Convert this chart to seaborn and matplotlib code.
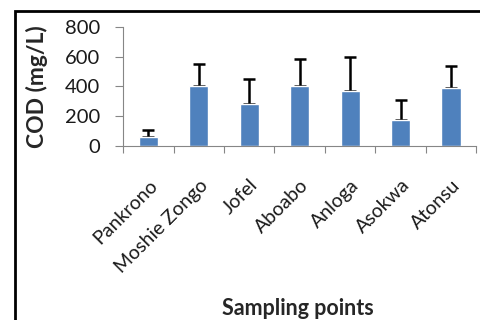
# COD by sampling point, bar chart with upward error bars

import pandas as pd
import numpy as np
import matplotlib
matplotlib.use('Agg')
import matplotlib.pyplot as plt
from matplotlib.patches import Rectangle
import seaborn as sns

# Data
sites = ['Pankrono', 'Moshie Zongo', 'Jofel', 'Aboabo', 'Anloga', 'Asokwa', 'Atonsu']
cod_mean = [62, 400, 280, 400, 372, 175, 392]
cod_sd = [46, 149, 168, 183, 228, 134, 146]

df = pd.DataFrame({'site': sites, 'cod': cod_mean})

sns.set_style('white')
plt.rcParams['font.family'] = ['Lato', 'DejaVu Sans']

fig = plt.figure(figsize=(4.81, 3.20), dpi=100)
ax = fig.add_axes([0.256, 0.544, 0.734, 0.372])

sns.barplot(data=df, x='site', y='cod', color='#4F81BD', width=0.38,
            saturation=1, errorbar=None, ax=ax, zorder=2)
ax.errorbar(np.arange(len(sites)), cod_mean,
            yerr=[np.zeros(len(sites)), cod_sd],
            fmt='none', ecolor='black', elinewidth=1.8, capsize=4,
            capthick=1.8, zorder=1)

ax.set_ylim(0, 800)
ax.set_xlim(-0.5, len(sites) - 0.5)
ax.set_yticks([0, 200, 400, 600, 800])
ax.tick_params(axis='y', labelsize=14.5, length=5.5, width=0.8, color='#868686',
               left=True, pad=11, labelcolor='#1a1a1a')
ax.set_xticks(np.arange(-0.5, len(sites)), minor=True)
ax.tick_params(axis='x', which='major', length=0, labelsize=14, pad=22,
               labelcolor='#1a1a1a')
ax.tick_params(axis='x', which='minor', length=5, width=0.8, color='#868686',
               bottom=True)
ax.set_xticks(np.arange(len(sites)))
ax.set_xticklabels(sites, rotation=45, ha='right', rotation_mode='anchor')

sns.despine(ax=ax)
for s in ['left', 'bottom']:
    ax.spines[s].set_color('#868686')
    ax.spines[s].set_linewidth(0.8)

ax.set_xlabel('')
ax.set_ylabel('COD (mg/L)', fontsize=16.5, fontweight='bold', labelpad=12)
fig.text(0.62, 0.035, 'Sampling points', fontsize=15.5, fontweight='bold',
         ha='center', va='center')

# outer chart frame (only left and top edges visible)
fig.patches.append(Rectangle((0.031, -0.5), 1.5, 1.466, transform=fig.transFigure,
                             fill=False, edgecolor='black', linewidth=2))

fig.savefig('out.png', dpi=100)
